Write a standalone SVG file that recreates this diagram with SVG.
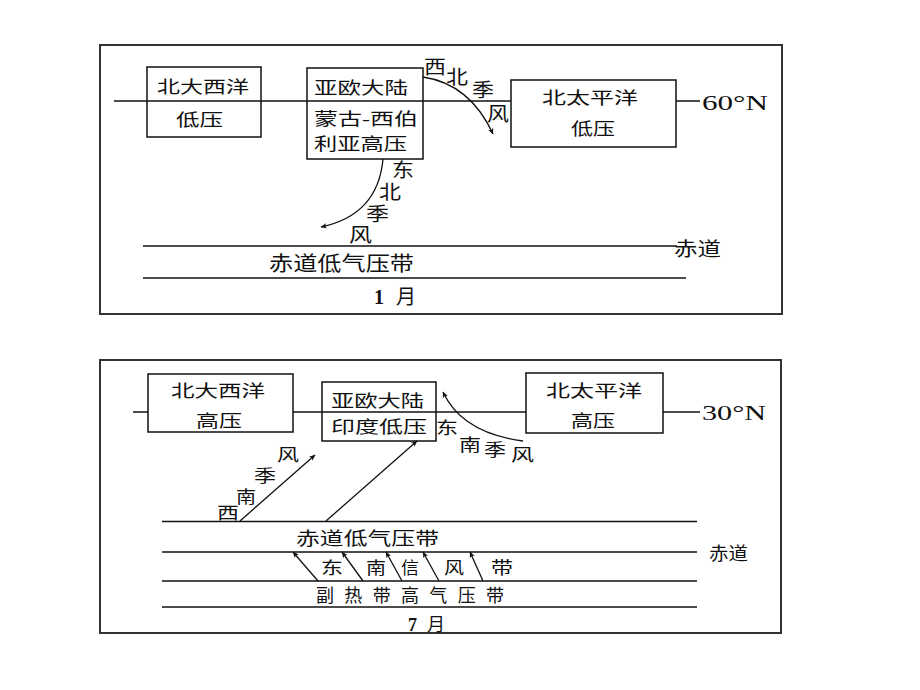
<svg xmlns="http://www.w3.org/2000/svg" width="920" height="690" viewBox="0 0 920 690">
<defs>
<marker id="ah" viewBox="0 0 10 10" refX="9.5" refY="5" markerWidth="9" markerHeight="6" orient="auto" markerUnits="userSpaceOnUse">
<path d="M0,0.5 L10,5 L0,9.5 L2.5,5 z" fill="#111"/>
</marker>
<style>
.panel{fill:#fff;stroke:#333;stroke-width:2}
.box{fill:#fff;stroke:#111;stroke-width:1.5}
.ln{stroke:#111;stroke-width:1.5;fill:none}
.arr{stroke:#111;stroke-width:1.3;fill:none;marker-end:url(#ah)}
text{font-family:"Liberation Serif","Noto Sans CJK SC",serif;fill:#111;font-size:17px}
.w{font-size:19px}
.lat{font-family:"Liberation Serif","Times New Roman",serif;font-size:22px}
.b{font-weight:bold}
</style>
</defs>
<rect width="920" height="690" fill="#fff"/>

<!-- ===== Panel 1: January ===== -->
<g id="panel-jan">
<rect class="panel" x="100" y="45" width="682" height="269"/>
</g>
<g id="jan-lines">
<line class="ln" x1="114" y1="101" x2="511" y2="101"/>
<line class="ln" x1="676" y1="101" x2="700" y2="101"/>
<line class="ln" x1="143" y1="246" x2="677" y2="246"/>
<line class="ln" x1="143" y1="278" x2="686" y2="278"/>
</g>
<g id="jan-atlantic-low">
<rect class="box" x="147" y="67" width="114" height="70" style="fill:none"/>
<text x="157" y="93" textLength="92" lengthAdjust="spacingAndGlyphs">北大西洋</text>
<text x="176" y="126" textLength="47" lengthAdjust="spacingAndGlyphs">低压</text>
</g>
<g id="jan-siberian-high">
<rect class="box" x="307" y="68" width="116" height="91" style="fill:none"/>
<text x="314" y="94" textLength="94" lengthAdjust="spacingAndGlyphs">亚欧大陆</text>
<text x="314" y="125" textLength="104" lengthAdjust="spacingAndGlyphs">蒙古-西伯</text>
<text x="314" y="150" textLength="93" lengthAdjust="spacingAndGlyphs">利亚高压</text>
</g>
<g id="jan-pacific-low">
<rect class="box" x="511" y="80" width="165" height="67"/>
<text x="542" y="104" textLength="96" lengthAdjust="spacingAndGlyphs">北太平洋</text>
<text x="571" y="135" textLength="44" lengthAdjust="spacingAndGlyphs">低压</text>
</g>
<g id="jan-labels">
<text class="lat" x="702" y="110" textLength="66" lengthAdjust="spacingAndGlyphs">60°N</text>
<text class="w" x="674" y="256" textLength="47" lengthAdjust="spacingAndGlyphs">赤道</text>
<text class="w" x="269" y="271" textLength="145" lengthAdjust="spacingAndGlyphs" style="font-size:20px">赤道低气压带</text>
<text x="374" y="304" style="font-size:20px"><tspan class="b">1</tspan><tspan x="396" style="font-size:20px">月</tspan></text>
<text class="w" x="424" y="74" textLength="22" lengthAdjust="spacingAndGlyphs">西</text>
<text class="w" x="446" y="84" textLength="22" lengthAdjust="spacingAndGlyphs">北</text>
<text class="w" x="472" y="97" textLength="22" lengthAdjust="spacingAndGlyphs">季</text>
<text class="w" x="487" y="121" textLength="22" lengthAdjust="spacingAndGlyphs">风</text>
<text class="w" x="392" y="177" textLength="22" lengthAdjust="spacingAndGlyphs">东</text>
<text class="w" x="379" y="199" textLength="22" lengthAdjust="spacingAndGlyphs">北</text>
<text class="w" x="366" y="221" textLength="23" lengthAdjust="spacingAndGlyphs">季</text>
<text class="w" x="349" y="242" textLength="23" lengthAdjust="spacingAndGlyphs">风</text>
</g>

<!-- ===== Panel 2: July ===== -->
<g id="panel-jul">
<rect class="panel" x="100" y="360" width="681" height="273"/>
</g>
<g id="jul-lines">
<line class="ln" x1="133" y1="412" x2="526" y2="412"/>
<line class="ln" x1="663" y1="412" x2="700" y2="412"/>
<line class="ln" x1="162" y1="521.5" x2="697" y2="521.5"/>
<line class="ln" x1="162" y1="552" x2="697" y2="552"/>
<line class="ln" x1="162" y1="581" x2="697" y2="581"/>
<line class="ln" x1="162" y1="607" x2="697" y2="607"/>
</g>
<g id="jul-atlantic-high">
<rect class="box" x="148" y="374" width="145" height="58"/>
<text x="171" y="397" textLength="94" lengthAdjust="spacingAndGlyphs">北大西洋</text>
<text x="196" y="427" textLength="46" lengthAdjust="spacingAndGlyphs">高压</text>
</g>
<g id="jul-indian-low">
<rect class="box" x="322" y="382" width="114" height="59" style="fill:none"/>
<text x="331" y="407" textLength="93" lengthAdjust="spacingAndGlyphs">亚欧大陆</text>
<text x="331" y="433" textLength="96" lengthAdjust="spacingAndGlyphs">印度低压</text>
</g>
<g id="jul-pacific-high">
<rect class="box" x="526" y="373" width="137" height="60"/>
<text x="546" y="397" textLength="96" lengthAdjust="spacingAndGlyphs">北太平洋</text>
<text x="571" y="427" textLength="44" lengthAdjust="spacingAndGlyphs">高压</text>
</g>
<g id="jul-labels">
<text class="lat" x="702" y="420" textLength="64" lengthAdjust="spacingAndGlyphs">30°N</text>
<text x="709" y="560" textLength="39" lengthAdjust="spacingAndGlyphs" style="font-size:18px">赤道</text>
<text x="296" y="545" textLength="143" lengthAdjust="spacingAndGlyphs" style="font-size:18px">赤道低气压带</text>
<text x="316" y="602" textLength="188" lengthAdjust="spacing" style="font-size:18px">副热带高气压带</text>
<text x="408" y="631" style="font-size:18px"><tspan class="b">7</tspan><tspan x="427">月</tspan></text>
<text x="321" y="574" textLength="22" lengthAdjust="spacingAndGlyphs">东</text>
<text x="366" y="574" textLength="20" lengthAdjust="spacingAndGlyphs">南</text>
<text x="401" y="574" textLength="18" lengthAdjust="spacingAndGlyphs">信</text>
<text x="444" y="574" textLength="20" lengthAdjust="spacingAndGlyphs">风</text>
<text x="491" y="574" textLength="22" lengthAdjust="spacingAndGlyphs">带</text>
<text x="217" y="519" textLength="22" lengthAdjust="spacingAndGlyphs">西</text>
<text x="236" y="503" textLength="20" lengthAdjust="spacingAndGlyphs">南</text>
<text x="254" y="482" textLength="22" lengthAdjust="spacingAndGlyphs">季</text>
<text x="277" y="461" textLength="22" lengthAdjust="spacingAndGlyphs">风</text>
<text x="436" y="434" textLength="22" lengthAdjust="spacingAndGlyphs">东</text>
<text x="459" y="451" textLength="22" lengthAdjust="spacingAndGlyphs">南</text>
<text x="484" y="456" textLength="22" lengthAdjust="spacingAndGlyphs">季</text>
<text x="511" y="461" textLength="23" lengthAdjust="spacingAndGlyphs">风</text>
</g>

<!-- ===== Connectors ===== -->
<g id="connectors">
<path class="arr" d="M423,77 Q470,84 493,134"/>
<path class="arr" d="M383,159 Q378,215 321,227"/>
<path class="arr" d="M240,521 L315,455"/>
<path class="arr" d="M326,521 L417,441"/>
<path class="arr" d="M523,441 Q462,433 443,392"/>
<path class="arr" d="M318,581 L293,552"/>
<path class="arr" d="M363,581 L342,552"/>
<path class="arr" d="M402,581 L386,552"/>
<path class="arr" d="M439,581 L423,552"/>
<path class="arr" d="M483,581 L470,552"/>
</g>
</svg>
